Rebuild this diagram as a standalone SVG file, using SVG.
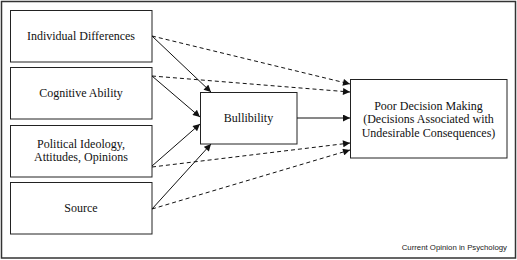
<svg xmlns="http://www.w3.org/2000/svg" width="517" height="260" viewBox="0 0 517 260">
<style>
.box{fill:#fff;stroke:#222;stroke-width:1}
.t{font-family:"Liberation Serif","Times New Roman",serif;font-size:12px;fill:#111;text-anchor:middle}
.s{stroke:#111;stroke-width:1;fill:none;marker-end:url(#ah)}
.d{stroke:#111;stroke-width:1;fill:none;stroke-dasharray:4,3;marker-end:url(#ah)}
</style>
<defs>
<marker id="ah" viewBox="0 0 10 10" refX="10" refY="5" markerWidth="8" markerHeight="7" markerUnits="userSpaceOnUse" orient="auto">
<path d="M0,0 L10,5 L0,10 z" fill="#111"/>
</marker>
</defs>
<rect x="1.5" y="1.5" width="514" height="256.5" fill="#fff" stroke="#333" stroke-width="1.5"/>
<g id="n1"><rect class="box" x="10.5" y="10.5" width="141.5" height="51.5"/><text class="t" x="81" y="40">Individual Differences</text></g>
<g id="n2"><rect class="box" x="10.5" y="67.5" width="141.5" height="51.5"/><text class="t" x="81" y="97">Cognitive Ability</text></g>
<g id="n3"><rect class="box" x="10.5" y="125.5" width="141.5" height="51.5"/><text class="t" x="81" y="148">Political Ideology,</text><text class="t" x="81" y="161">Attitudes, Opinions</text></g>
<g id="n4"><rect class="box" x="10.5" y="182.5" width="141.5" height="51.5"/><text class="t" x="81" y="212">Source</text></g>
<g id="n5"><rect class="box" x="200.5" y="92.5" width="96.5" height="51.5"/><text class="t" x="248.5" y="122">Bullibility</text></g>
<g id="n6"><rect class="box" x="350.5" y="79.5" width="156.5" height="78.5"/><text class="t" x="428.5" y="110">Poor Decision Making</text><text class="t" x="428.5" y="123">(Decisions Associated with</text><text class="t" x="428.5" y="137">Undesirable Consequences)</text></g>
<g id="connectors">
<line class="s" x1="152" y1="36" x2="211" y2="92"/>
<line class="s" x1="152" y1="76" x2="200" y2="117"/>
<line class="s" x1="152" y1="166" x2="200" y2="124"/>
<line class="s" x1="152" y1="209" x2="211" y2="144"/>
<line class="s" x1="297" y1="118" x2="350" y2="118"/>
<line class="d" x1="152" y1="36" x2="350" y2="84"/>
<line class="d" x1="152" y1="76" x2="350" y2="92"/>
<line class="d" x1="152" y1="167" x2="350" y2="143"/>
<line class="d" x1="152" y1="209" x2="350" y2="150"/>
</g>
<text x="507" y="250" font-family="'Liberation Sans',Arial,sans-serif" font-size="7.8" fill="#222" text-anchor="end">Current Opinion in Psychology</text>
</svg>
